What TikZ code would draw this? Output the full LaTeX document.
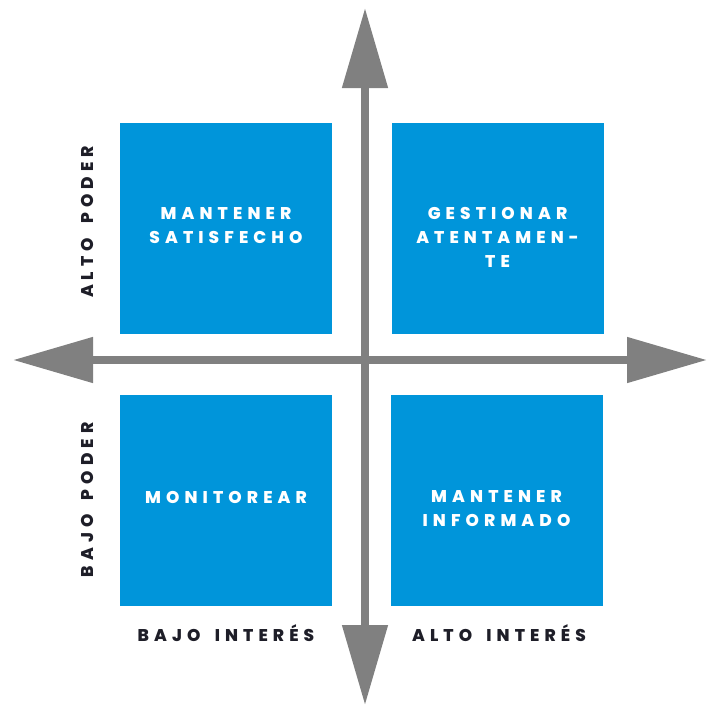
\documentclass[tikz,border=0pt]{standalone}
\usepackage{fontspec}
\usetikzlibrary{arrows.meta}
\newfontfamily\lblfont[UprightFont={* ExtraBold}, LetterSpace=30, WordSpace=1.7]{Poppins}
\definecolor{boxblue}{HTML}{0095DA}
\definecolor{axisgray}{HTML}{808080}
\definecolor{labeldark}{HTML}{1E1E28}
\tikzset{
  quad/.style={fill=boxblue, draw=none, minimum width=212pt, minimum height=211pt, inner sep=0pt},
  quadtext/.style={text=white, font=\lblfont\fontsize{17}{24}\selectfont, align=center, inner sep=0pt},
  axislabel/.style={text=labeldark, font=\lblfont\fontsize{17}{24}\selectfont, inner sep=0pt},
  axis/.style={draw=axisgray, line width=8pt, {Triangle[width=44pt,length=80pt]}-{Triangle[width=44pt,length=80pt]}, axisgray}
}
\begin{document}
\begin{tikzpicture}[x=1pt,y=-1pt]
\useasboundingbox (0,0) rectangle (707,709);
% quadrants
\node[quad] (tl) at (226,228) {};
\node[quad] (tr) at (497.5,228) {};
\node[quad] (bl) at (226,500.5) {};
\node[quad] (br) at (496.5,500.5) {};
% axes
\coordinate (top) at (365,8);
\coordinate (bottom) at (365,705);
\coordinate (left) at (13,360);
\coordinate (right) at (707,360);
\draw[axis] (left) -- (right);
\draw[axis] (bottom) -- (top);
% quadrant texts
\node[quadtext, anchor=north] (ttl) at (226,207) {MANTENER\\SATISFECHO};
\node[quadtext, anchor=north] (ttr) at (497.5,207) {GESTIONAR\\ATENTAMEN-\\TE};
\node[quadtext] (tbl) at (226,497) {MONITOREAR};
\node[quadtext, anchor=north] (tbr) at (496.5,490) {MANTENER\\INFORMADO};
% axis labels
\node[axislabel, rotate=90] (ap) at (87,222) {ALTO PODER};
\node[axislabel, rotate=90] (bp) at (87,500) {BAJO PODER};
\node[axislabel] (bi) at (226,633) {BAJO INTERÉS};
\node[axislabel] (ai) at (499,633) {ALTO INTERÉS};
\end{tikzpicture}
\end{document}
